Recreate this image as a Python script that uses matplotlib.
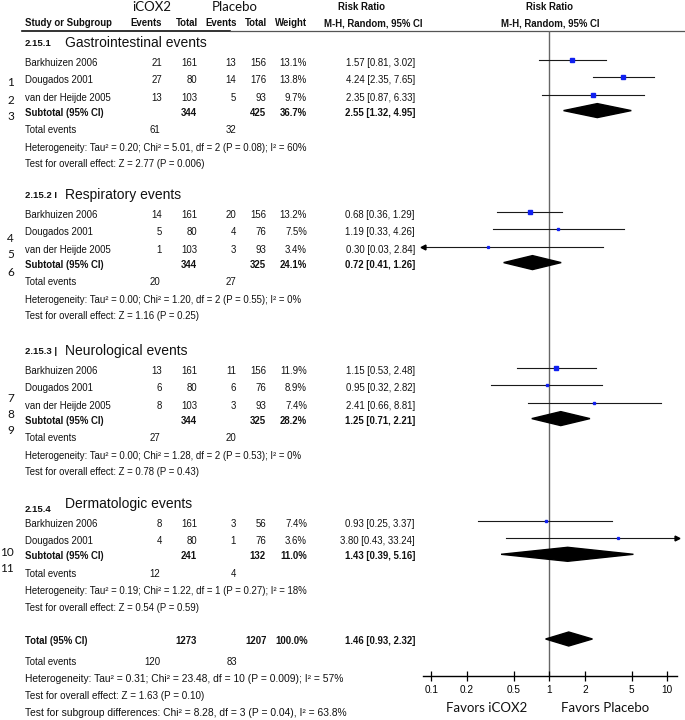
import numpy as np
import matplotlib
matplotlib.use("Agg")
import matplotlib.pyplot as plt
from matplotlib.ticker import NullLocator, FixedLocator, FixedFormatter

# ---- data ----
group_codes = ["2.15.1", "2.15.2 I", "2.15.3 |", "2.15.4"]
group_names = ["Gastrointestinal events", "Respiratory events",
               "Neurological events", "Dermatologic events"]

studies = [
    ["Barkhuizen 2006", "Dougados 2001", "van der Heijde 2005"],
    ["Barkhuizen 2006", "Dougados 2001", "van der Heijde 2005"],
    ["Barkhuizen 2006", "Dougados 2001", "van der Heijde 2005"],
    ["Barkhuizen 2006", "Dougados 2001"],
]
cox_events = [[21, 27, 13], [14, 5, 1], [13, 6, 8], [8, 4]]
cox_total = [[161, 80, 103], [161, 80, 103], [161, 80, 103], [161, 80]]
pla_events = [[13, 14, 5], [20, 4, 3], [11, 6, 3], [3, 1]]
pla_total = [[156, 176, 93], [156, 76, 93], [156, 76, 93], [56, 76]]
weights = [[13.1, 13.8, 9.7], [13.2, 7.5, 3.4], [11.9, 8.9, 7.4], [7.4, 3.6]]
rr = [[1.57, 4.24, 2.35], [0.68, 1.19, 0.30], [1.15, 0.95, 2.41], [0.93, 3.80]]
rr_lo = [[0.81, 2.35, 0.87], [0.36, 0.33, 0.03], [0.53, 0.32, 0.66], [0.25, 0.43]]
rr_hi = [[3.02, 7.65, 6.33], [1.29, 4.26, 2.84], [2.48, 2.82, 8.81], [3.37, 33.24]]

sub_cox_total = [344, 344, 344, 241]
sub_pla_total = [425, 325, 325, 132]
sub_weight = [36.7, 24.1, 28.2, 11.0]
sub_rr = [2.55, 0.72, 1.25, 1.43]
sub_lo = [1.32, 0.41, 0.71, 0.39]
sub_hi = [4.95, 1.26, 2.21, 5.16]
sub_cox_events = [61, 20, 27, 12]
sub_pla_events = [32, 27, 20, 4]
sub_het = [
    "Heterogeneity: Tau² = 0.20; Chi² = 5.01, df = 2 (P = 0.08); I² = 60%",
    "Heterogeneity: Tau² = 0.00; Chi² = 1.20, df = 2 (P = 0.55); I² = 0%",
    "Heterogeneity: Tau² = 0.00; Chi² = 1.28, df = 2 (P = 0.53); I² = 0%",
    "Heterogeneity: Tau² = 0.19; Chi² = 1.22, df = 1 (P = 0.27); I² = 18%",
]
sub_test = [
    "Test for overall effect: Z = 2.77 (P = 0.006)",
    "Test for overall effect: Z = 1.16 (P = 0.25)",
    "Test for overall effect: Z = 0.78 (P = 0.43)",
    "Test for overall effect: Z = 0.54 (P = 0.59)",
]

tot_cox_total, tot_pla_total, tot_weight = 1273, 1207, 100.0
tot_rr, tot_lo, tot_hi = 1.46, 0.93, 2.32
tot_cox_events, tot_pla_events = 120, 83
tot_het = "Heterogeneity: Tau² = 0.31; Chi² = 23.48, df = 10 (P = 0.009); I² = 57%"
tot_test = "Test for overall effect: Z = 1.63 (P = 0.10)"
sub_diff = "Test for subgroup differences: Chi² = 8.28, df = 3 (P = 0.04), I² = 63.8%"

axis_ticks = [0.1, 0.2, 0.5, 1, 2, 5, 10]
axis_ticklabels = ["0.1", "0.2", "0.5", "1", "2", "5", "10"]

# ---- layout (pixels) ----
W, H = 685, 720
section_y = [44, 196, 352, 505]
overall_y = [641, 662, 679, 696, 713]
col_ev1, col_n1, col_ev2, col_n2, col_w, col_rr = 162, 197, 236, 266, 307, 415
x_left = 25
mark_off = -3
FS = 6.9
ARIAL = "Liberation Sans"
CAL = "Lato"

fig = plt.figure(figsize=(W / 100, H / 100), dpi=100)
tax = fig.add_axes([0, 0, 1, 1])
tax.set_xlim(0, W)
tax.set_ylim(H, 0)
tax.axis("off")

fax = fig.add_axes([423 / W, (H - 676) / H, (677 - 423) / W, (676 - 31) / H])
fax.set_xscale("log")
fax.set_xlim(0.085, 12.08)
fax.set_ylim(676, 31)
fax.patch.set_alpha(0)
for s in ["left", "right", "top"]:
    fax.spines[s].set_visible(False)
fax.spines["bottom"].set_linewidth(1.0)
fax.yaxis.set_visible(False)
fax.xaxis.set_major_locator(FixedLocator(axis_ticks))
fax.xaxis.set_major_formatter(FixedFormatter(axis_ticklabels))
fax.xaxis.set_minor_locator(NullLocator())
fax.tick_params(axis="x", direction="inout", length=7, width=0.9, pad=3,
                labelsize=7.2)
for lab in fax.get_xticklabels():
    lab.set_fontfamily(ARIAL)
fax.axvline(1, color="#666666", lw=1.0, zorder=1)
xmin, xmax = fax.get_xlim()


def txt(x, y, s, ha="right", bold=False, size=FS, family=ARIAL):
    tax.text(x, y, s, ha=ha, va="center", fontsize=size, family=family,
             fontweight="bold" if bold else "normal", color="#111111")


def ci_row(y, est, lo, hi, w):
    y = y + mark_off
    a, b = max(lo, xmin), min(hi, xmax)
    fax.plot([a, b], [y, y], color="#1a1a1a", lw=0.8, zorder=2)
    if lo < xmin:
        fax.plot(xmin, y, marker="<", ms=3.5, color="k", clip_on=False)
    if hi > xmax:
        fax.plot(xmax, y, marker=">", ms=3.5, color="k", clip_on=False)
    fax.plot(est, y, marker="s", ms=0.9 + 0.13 * w, color="#1020f0",
             mec="#1020f0", zorder=3)


def diamond(y, est, lo, hi, h=7):
    y = y + mark_off + 1
    fax.fill([lo, est, hi, est], [y, y - h, y, y + h], color="black", zorder=3)


# headers
txt(152, 7, "iCOX2", ha="center", size=9.5, family=CAL)
txt(235, 7, "Placebo", ha="center", size=9.5, family=CAL)
txt(362, 7, "Risk Ratio", ha="center", bold=True)
txt(550, 7, "Risk Ratio", ha="center", bold=True)
txt(x_left, 23, "Study or Subgroup", ha="left", bold=True)
for x, s in [(162, "Events"), (198, "Total"), (237, "Events"), (267, "Total"),
             (307, "Weight")]:
    txt(x, 23, s, bold=True)
txt(373, 23, "M-H, Random, 95% CI", ha="center", bold=True)
txt(550, 23, "M-H, Random, 95% CI", ha="center", bold=True)
tax.plot([22, 230], [31, 31], color="#111111", lw=1.2)
tax.plot([230, 685], [31, 31], color="#555555", lw=0.9)

for g in range(len(group_names)):
    y0 = section_y[g]
    txt(x_left, y0 + (5 if g == 3 else 0), group_codes[g], ha="left", bold=True,
        size=6.8)
    txt(65, y0 - 1, group_names[g], ha="left", size=10)
    y = y0 + 19
    for i in range(len(studies[g])):
        txt(x_left, y, studies[g][i], ha="left")
        txt(col_ev1, y, str(cox_events[g][i]))
        txt(col_n1, y, str(cox_total[g][i]))
        txt(col_ev2, y, str(pla_events[g][i]))
        txt(col_n2, y, str(pla_total[g][i]))
        txt(col_w, y, f"{weights[g][i]:.1f}%")
        txt(col_rr, y, f"{rr[g][i]:.2f} [{rr_lo[g][i]:.2f}, {rr_hi[g][i]:.2f}]")
        ci_row(y, rr[g][i], rr_lo[g][i], rr_hi[g][i], weights[g][i])
        y += 17.3
    y = y - 17.3 + 15
    txt(x_left, y, "Subtotal (95% CI)", ha="left", bold=True)
    txt(col_n1, y, str(sub_cox_total[g]), bold=True)
    txt(col_n2, y, str(sub_pla_total[g]), bold=True)
    txt(col_w, y, f"{sub_weight[g]:.1f}%", bold=True)
    txt(col_rr, y, f"{sub_rr[g]:.2f} [{sub_lo[g]:.2f}, {sub_hi[g]:.2f}]", bold=True)
    diamond(y, sub_rr[g], sub_lo[g], sub_hi[g])
    y += 17.5
    txt(x_left, y, "Total events", ha="left")
    txt(col_ev1 - 2, y, str(sub_cox_events[g]))
    txt(col_ev2, y, str(sub_pla_events[g]))
    y += 17.5
    txt(x_left, y, sub_het[g], ha="left")
    y += 16.5
    txt(x_left, y, sub_test[g], ha="left")

# overall
y = overall_y
txt(x_left, y[0], "Total (95% CI)", ha="left", bold=True)
txt(col_n1, y[0], str(tot_cox_total), bold=True)
txt(col_n2 + 1, y[0], str(tot_pla_total), bold=True)
txt(col_w + 1, y[0], f"{tot_weight:.1f}%", bold=True)
txt(col_rr, y[0], f"{tot_rr:.2f} [{tot_lo:.2f}, {tot_hi:.2f}]", bold=True)
diamond(y[0], tot_rr, tot_lo, tot_hi)
txt(x_left, y[1], "Total events", ha="left")
txt(col_ev1 - 2, y[1], str(tot_cox_events))
txt(col_ev2 + 1, y[1], str(tot_pla_events))
txt(x_left, y[2], tot_het, ha="left", size=7.4)
txt(x_left, y[3], tot_test, ha="left", size=7.1)
txt(x_left, y[4], sub_diff, ha="left", size=7.4)

# margin line numbers
for s, yy in zip([str(k) for k in range(1, 12)],
                 [83, 100, 117, 238, 255, 272, 398, 415, 431, 552, 568]):
    txt(14, yy, s, size=8.5, family=CAL)

txt(487, 708, "Favors iCOX2", ha="center", size=9.5, family=CAL)
txt(605, 708, "Favors Placebo", ha="center", size=9.5, family=CAL)

fig.savefig("out.png", dpi=100)
